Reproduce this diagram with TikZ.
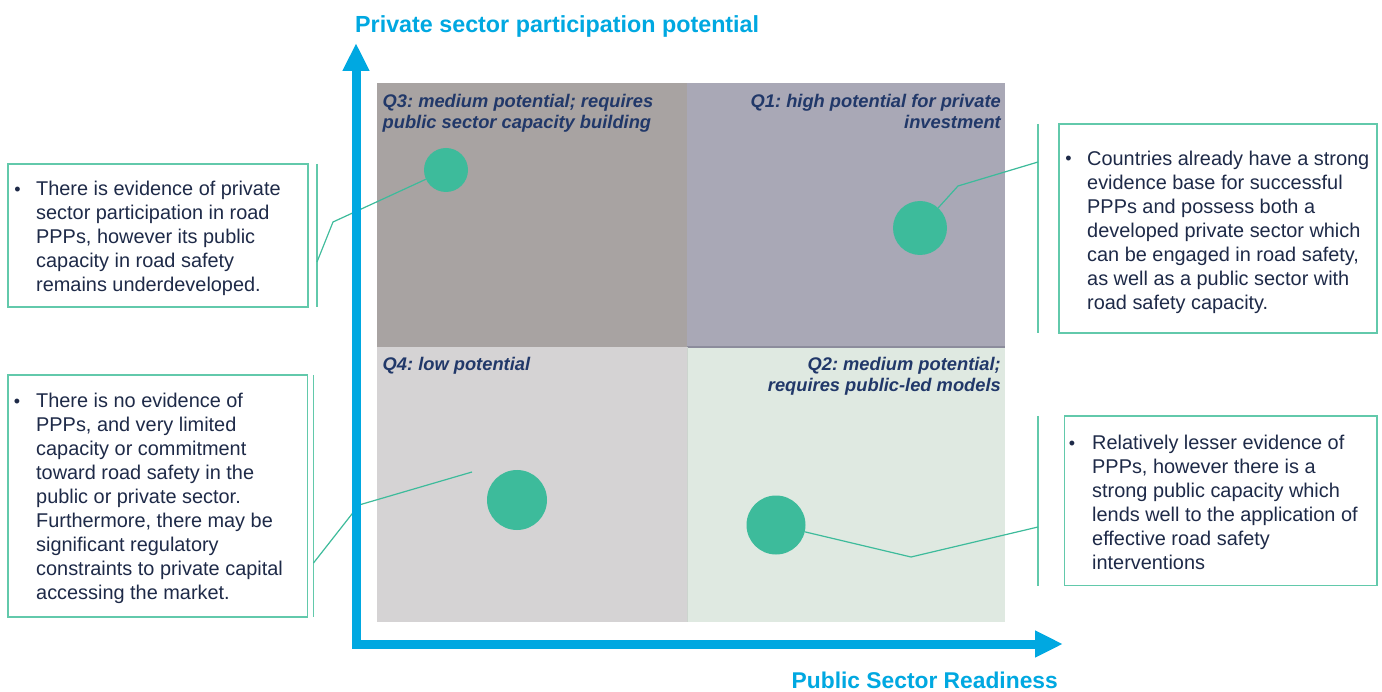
\documentclass[tikz,border=0pt]{standalone}
\usepackage{fontspec}
\setmainfont{Liberation Sans}
\usetikzlibrary{arrows.meta}
\frenchspacing
\definecolor{axisblue}{RGB}{0,168,225}
\definecolor{bodynavy}{RGB}{30,42,72}
\definecolor{titlenavy}{RGB}{33,56,105}
\definecolor{qthree}{RGB}{168,163,162}
\definecolor{qone}{RGB}{169,168,182}
\definecolor{qfour}{RGB}{213,211,212}
\definecolor{qtwo}{RGB}{223,233,225}
\definecolor{dotgreen}{RGB}{61,187,155}
\definecolor{boxgreen}{RGB}{98,201,171}
\definecolor{divgray}{RGB}{140,140,156}
\tikzset{
  bodytext/.style={anchor=north west, inner sep=0pt, align=left, text=bodynavy, font=\fontsize{19.9}{24}\selectfont},
  bul/.style={anchor=base, inner sep=0pt, text=bodynavy, font=\fontsize{18}{21}\selectfont},
  qtitle/.style={inner sep=0pt, text=titlenavy, font=\fontsize{18.3}{21}\selectfont\bfseries\itshape},
  callout/.style={draw=boxgreen, line width=1.5pt},
  bracketline/.style={draw=boxgreen, line width=1.5pt},
  leader/.style={draw=dotgreen, line width=1.2pt},
  dot/.style={circle, fill=dotgreen, inner sep=0pt},
  axisline/.style={draw=axisblue, line width=9pt, {Triangle[length=28pt,width=25pt]}-{Triangle[length=28pt,width=25pt]}},
  axislabel/.style={inner sep=0pt, text=axisblue, font=\fontsize{23.3}{27}\selectfont\bfseries}
}
\begin{document}
\begin{tikzpicture}[x=1pt,y=-1pt]
\useasboundingbox (0,0) rectangle (1382,692);
\fill[white] (0,0) rectangle (1382,692);

% quadrants
\fill[qthree] (377,83) rectangle (687,347);
\fill[qone] (687,83) rectangle (1005,347);
\fill[qfour] (377,347) rectangle (687,622);
\fill[qtwo] (687,347) rectangle (1005,622);
\draw[divgray, line width=1.2pt] (687,347) -- (1005,347);
\draw[qtwo!80!gray, line width=0.6pt] (687,347) -- (687,622);

% quadrant titles
\node[qtitle, anchor=north west, align=left] (t3) at (382.5,92.8) {\strut Q3: medium potential; requires\\public sector capacity building};
\node[qtitle, anchor=north east, align=right] (t1) at (1001,92.8) {\strut Q1: high potential for private\\investment};
\node[qtitle, anchor=north west, align=left] (t4) at (382.5,355.8) {\strut Q4: low potential};
\node[qtitle, anchor=north east, align=right] (t2) at (1001,355.8) {\strut Q2: medium potential;\\requires public-led models};

% dots
\node[dot, minimum size=44pt] (c3) at (446,170) {};
\node[dot, minimum size=54pt] (c1) at (920,228) {};
\node[dot, minimum size=60pt] (c4) at (517,500) {};
\node[dot, minimum size=59pt] (c2) at (776,525) {};

% callout boxes
\draw[callout] (8,164) rectangle (308,307);
\draw[callout] (8,375) rectangle (307.5,617);
\draw[callout] (1059,124) rectangle (1377,333);
\draw[callout] (1064.5,416) rectangle (1377,585.5);

% brackets
\coordinate (b1t) at (317,164); \coordinate (b1b) at (317,307);
\coordinate (b2t) at (313.5,375); \coordinate (b2b) at (313.5,617);
\coordinate (b3t) at (1038,124); \coordinate (b3b) at (1038,333);
\coordinate (b4t) at (1038,416); \coordinate (b4b) at (1038,586);
\draw[bracketline] (b1t) -- (b1b);
\draw[bracketline] (b2t) -- (b2b);
\draw[bracketline] (b3t) -- (b3b);
\draw[bracketline] (b4t) -- (b4b);

% leaders
\coordinate (l1a) at (317,262); \coordinate (l1k) at (333,222);
\draw[leader] (l1a) -- (l1k) -- (c3);
\coordinate (l2a) at (313.5,563); \coordinate (l2k) at (359,505); \coordinate (l2e) at (472,472);
\draw[leader] (l2a) -- (l2k) -- (l2e);
\coordinate (l3a) at (1038,162); \coordinate (l3k) at (958,186);
\draw[leader] (l3a) -- (l3k) -- (c1);
\coordinate (l4a) at (1038,527); \coordinate (l4k) at (911,557);
\draw[leader] (l4a) -- (l4k) -- (c2);

% callout texts
\node[bul] (u1) at (17.5,195.5) {•};
\node[bodytext] (x1) at (36,178.7) {\strut There is evidence of private\\sector participation in road\\PPPs, however its public\\capacity in road safety\\remains underdeveloped.};
\node[bul] (u2) at (17,407.3) {•};
\node[bodytext] (x2) at (36,390.5) {\strut There is no evidence of\\PPPs, and very limited\\capacity or commitment\\toward road safety in the\\public or private sector.\\Furthermore, there may be\\significant regulatory\\constraints to private capital\\accessing the market.};
\node[bul] (u3) at (1068.5,165) {•};
\node[bodytext] (x3) at (1087,148.2) {\strut Countries already have a strong\\evidence base for successful\\PPPs and possess both a\\developed private sector which\\can be engaged in road safety,\\as well as a public sector with\\road safety capacity.};
\node[bul] (u4) at (1072,449.3) {•};
\node[bodytext] (x4) at (1092,432.5) {\strut Relatively lesser evidence of\\PPPs, however there is a\\strong public capacity which\\lends well to the application of\\effective road safety\\interventions};

% axes
\coordinate (ytip) at (356,43);
\coordinate (xtip) at (1063,644);
\draw[axisline] (ytip) |- (xtip);

% axis labels
\node[axislabel, anchor=base west] (ylab) at (355,32.3) {Private sector participation potential};
\node[axislabel, anchor=base east, font=\fontsize{22.8}{26}\selectfont\bfseries] (xlab) at (1058,688.3) {Public Sector Readiness};
\end{tikzpicture}
\end{document}
